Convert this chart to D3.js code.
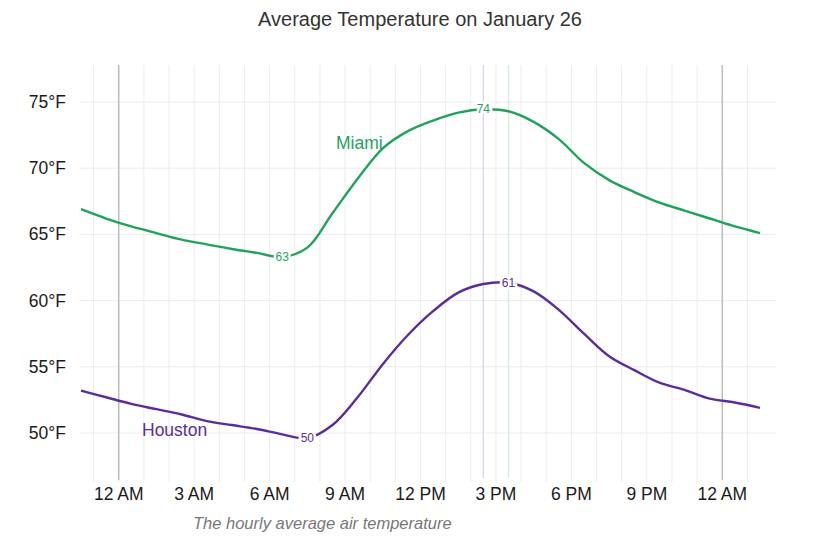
<!DOCTYPE html>
<html>
<head>
  <meta charset="utf-8">
  <title>Average Temperature on January 26</title>
  <script src="https://d3js.org/d3.v7.min.js"></script>
  <style>
    body { margin: 0; background: #fff; }
    text { font-family: "Liberation Sans", Arial, sans-serif; }
    .grid line { stroke: #ececec; stroke-width: 1px; }
    .day line { stroke: #bdbdbd; stroke-width: 1.5px; }
    .axis text { font-size: 17.5px; fill: #1a1a1a; }
    .series { fill: none; stroke-width: 2.4px; }
    .value { font-size: 12px; stroke: #fff; stroke-width: 5px; paint-order: stroke; }
  </style>
</head>
<body>
<script>
  // Hours since midnight, Jan 26 (readings on the half hour).
  const hours = [-1.5, -0.5, 0.5, 1.5, 2.5, 3.5, 4.5, 5.5, 6.5, 7.5, 8.5, 9.5, 10.5, 11.5,
                 12.5, 13.5, 14.5, 15.5, 16.5, 17.5, 18.5, 19.5, 20.5, 21.5, 22.5, 23.5, 24.5, 25.5];
  const miami = [66.9, 66.2, 65.6, 65.1, 64.6, 64.25, 63.9, 63.6, 63.3, 64.0, 66.6, 69.2, 71.5, 72.8,
                 73.6, 74.2, 74.45, 74.3, 73.5, 72.2, 70.4, 69.1, 68.2, 67.4, 66.8, 66.2, 65.6, 65.1];
  const houston = [53.2, 52.7, 52.2, 51.8, 51.4, 50.9, 50.6, 50.3, 49.9, 49.6, 50.6, 52.7, 55.2, 57.4,
                   59.2, 60.6, 61.25, 61.35, 60.7, 59.3, 57.5, 55.8, 54.75, 53.8, 53.25, 52.6, 52.3, 51.9];
  const xTicks = [0, 3, 6, 9, 12, 15, 18, 21, 24];
  const xTickLabels = ["12 AM", "3 AM", "6 AM", "9 AM", "12 PM", "3 PM", "6 PM", "9 PM", "12 AM"];
  const yTicks = [50, 55, 60, 65, 70, 75];
  const hourGrid = d3.range(-1, 26);
  const dayLines = [0, 24];

  const width = 820, height = 547;
  const plotTop = 65, plotBottom = 482, plotLeft = 80, plotRight = 776;

  const svg = d3.select("body").append("svg")
      .attr("width", width)
      .attr("height", height);

  const x = d3.scaleLinear().domain([-1.5, 25.5]).range([81, 760]);
  const y = d3.scaleLinear().domain([50, 75]).range([433, 102]);

  // Title and caption.
  svg.append("text")
      .attr("x", 420).attr("y", 26)
      .attr("text-anchor", "middle")
      .style("font-size", "20px")
      .style("fill", "#333")
      .text("Average Temperature on January 26");

  svg.append("text")
      .attr("x", 193).attr("y", 529)
      .style("font-size", "16.5px")
      .style("font-style", "italic")
      .style("fill", "#777")
      .text("The hourly average air temperature");

  // Grid.
  const grid = svg.append("g").attr("class", "grid");
  grid.selectAll(".v")
    .data(hourGrid)
    .enter().append("line")
      .attr("x1", d => x(d)).attr("x2", d => x(d))
      .attr("y1", plotTop).attr("y2", plotBottom);
  grid.selectAll(".h")
    .data(yTicks)
    .enter().append("line")
      .attr("x1", plotLeft).attr("x2", plotRight)
      .attr("y1", d => y(d)).attr("y2", d => y(d));

  svg.append("g").attr("class", "day")
    .selectAll("line")
    .data(dayLines)
    .enter().append("line")
      .attr("x1", d => x(d)).attr("x2", d => x(d))
      .attr("y1", plotTop).attr("y2", plotBottom - 2);

  const series = [
    { name: "Miami", values: miami, color: "#1fa35c", rule: "#d9d0ea", labelX: 336, labelY: 149 },
    { name: "Houston", values: houston, color: "#5a2d9c", rule: "#cdebd6", labelX: 142, labelY: 436 }
  ];

  // Thin rules at each series' peak hour.
  series.forEach(s => {
    const hi = d3.maxIndex(s.values);
    svg.append("line")
        .attr("x1", x(hours[hi])).attr("x2", x(hours[hi]))
        .attr("y1", plotTop).attr("y2", plotBottom - 4)
        .style("stroke", s.rule)
        .style("stroke-width", 1.2);
  });

  // Axes.
  const yAxis = svg.append("g").attr("class", "axis");
  yAxis.selectAll("text")
    .data(yTicks)
    .enter().append("text")
      .attr("x", 66)
      .attr("y", d => y(d) + 6)
      .attr("text-anchor", "end")
      .text(d => d + "°F");

  const xAxis = svg.append("g").attr("class", "axis");
  xAxis.selectAll("text")
    .data(xTicks)
    .enter().append("text")
      .attr("x", d => x(d))
      .attr("y", 500)
      .attr("text-anchor", "middle")
      .text((d, i) => xTickLabels[i]);

  // Lines.
  const line = d3.line()
      .x((d, i) => x(hours[i]))
      .y(d => y(d))
      .curve(d3.curveCatmullRom);

  series.forEach(s => {
    svg.append("path")
        .attr("class", "series")
        .attr("d", line(s.values))
        .style("stroke", s.color);

    svg.append("text")
        .attr("x", s.labelX).attr("y", s.labelY)
        .style("font-size", "17.5px")
        .style("fill", s.color)
        .text(s.name);

    [d3.minIndex(s.values), d3.maxIndex(s.values)].forEach(i => {
      svg.append("text")
          .attr("class", "value")
          .attr("x", x(hours[i]))
          .attr("y", y(s.values[i]) + 4)
          .attr("text-anchor", "middle")
          .style("fill", s.color)
          .text(Math.round(s.values[i]));
    });
  });
</script>
</body>
</html>
